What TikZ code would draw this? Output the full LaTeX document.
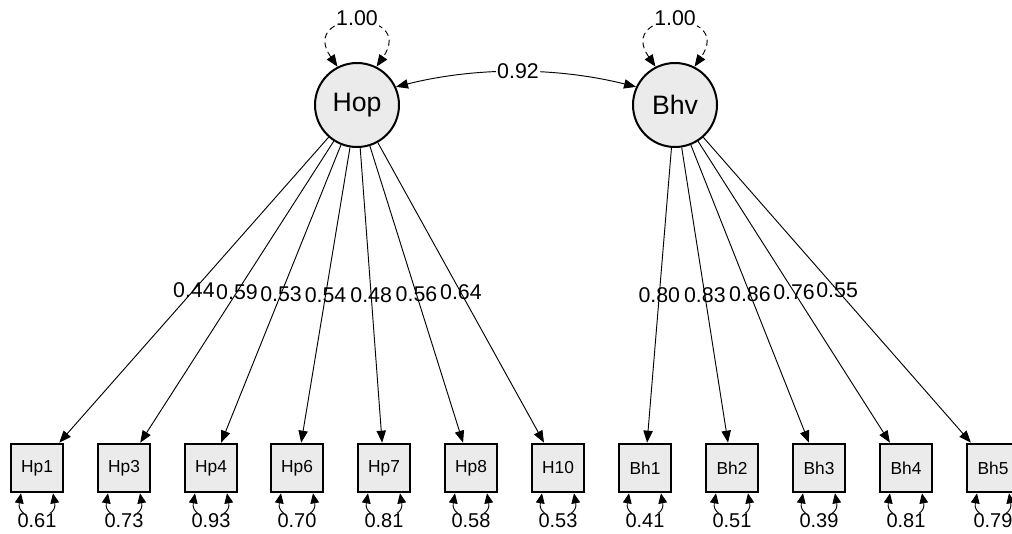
\documentclass[tikz,border=0pt]{standalone}
\usepackage{fontspec}
\setmainfont{Liberation Sans}
\usetikzlibrary{arrows.meta,calc}
\definecolor{nodegray}{RGB}{235,235,235}
\begin{document}
\begin{tikzpicture}[x=0.75pt,y=-0.75pt,
  latent/.style={circle,draw,line width=1.5pt,fill=nodegray,minimum size=63pt,inner sep=0pt,font=\fontsize{20}{20}\selectfont},
  manifest/.style={rectangle,draw,line width=1.5pt,fill=nodegray,minimum width=39pt,minimum height=36.5pt,inner sep=0pt,font=\fontsize{13}{13}\selectfont},
  tip/.style={-{Triangle[length=9pt,width=7pt]}},
  load/.style={tip,line width=0.7pt},
  lbl/.style={font=\fontsize{16}{16}\selectfont,inner sep=0.5pt},
  reslbl/.style={font=\fontsize{15}{15}\selectfont,inner sep=0.5pt,fill=white},
  res/.style={{Triangle[length=7.5pt,width=6.5pt]}-{Triangle[length=7.5pt,width=6.5pt]},line width=0.7pt}
]
\useasboundingbox (0,0) rectangle (1012,533);

\node[latent] (Hop) at (357,105) {Hop};
\node[latent] (Bhv) at (675,105) {Bhv};

\foreach \n/\x in {Hp1/37,Hp3/124,Hp4/211,Hp6/297,Hp7/384,Hp8/471,H10/558,Bh1/645,Bh2/732,Bh3/819,Bh4/906,Bh5/993}{
  \node[manifest] (\n) at (\x,468) {\n};
}

% variance loops on latents
\foreach \l in {Hop,Bhv}{
  \draw[line width=0.7pt,dashed,dash pattern=on 4.5pt off 3pt,
        {Triangle[length=9pt,width=7pt]}-{Triangle[length=9pt,width=7pt]}]
    (\l.117) .. controls +(-40,-58) and +(40,-58) .. (\l.63);
  \node[lbl,fill=white,inner sep=1pt] (v\l) at ($(\l)+(0,-87)$) {1.00};
}

% covariance
\draw[line width=0.7pt,{Triangle[length=9pt,width=7pt]}-{Triangle[length=9pt,width=7pt]}]
  (Hop.25) .. controls +(80,-20) and +(-80,-20) .. (Bhv.155);
\node[lbl,fill=white,inner sep=1pt] (cov) at (518,71) {0.92};

% loadings
\foreach \n/\v in {Hp1/0.44,Hp3/0.59,Hp4/0.53,Hp6/0.54,Hp7/0.48,Hp8/0.56,H10/0.64}{
  \draw[load] (Hop) -- node[lbl,pos=0.5]{\v} (\n);
}
\foreach \n/\v in {Bh1/0.80,Bh2/0.83,Bh3/0.86,Bh4/0.76,Bh5/0.55}{
  \draw[load] (Bhv) -- node[lbl,pos=0.5]{\v} (\n);
}

% residual variances
\foreach \n/\v in {Hp1/0.61,Hp3/0.73,Hp4/0.93,Hp6/0.70,Hp7/0.81,Hp8/0.58,H10/0.53,Bh1/0.41,Bh2/0.51,Bh3/0.39,Bh4/0.81,Bh5/0.79}{
  \draw[res] ($(\n.south)+(-16,0)$) .. controls +(-5,28) and +(5,28) .. ($(\n.south)+(16,0)$);
  \node[reslbl] (r\n) at ($(\n)+(0,53)$) {\v};
}
\end{tikzpicture}
\end{document}
